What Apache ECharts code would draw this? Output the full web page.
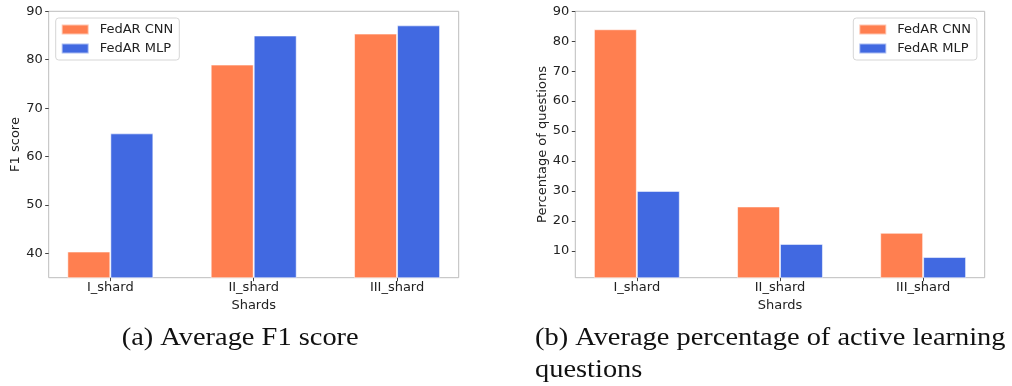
<!DOCTYPE html>
<html>
<head>
<meta charset="utf-8">
<script src="https://cdn.jsdelivr.net/npm/echarts@6/dist/echarts.min.js"></script>
<style>
  html, body { margin: 0; padding: 0; background: #fff; }
  #chart { width: 1012px; height: 386px; }
</style>
</head>
<body>
<div id="chart"></div>
<script>
// Shards on the horizontal axis
const categories = ['I_shard', 'II_shard', 'III_shard'];
const seriesNames = ['FedAR CNN', 'FedAR MLP'];

// (a) average F1 score per shard
const f1Cnn = [40.4, 79.0, 85.4];
const f1Mlp = [64.8, 85.0, 87.1];

// (b) average percentage of active learning questions per shard
const pctCnn = [84.0, 24.8, 16.0];
const pctMlp = [30.0, 12.3, 7.9];

// tick values
const xTicks = [0, 1, 2];
const f1Ticks = [40, 50, 60, 70, 80, 90];
const pctTicks = [10, 20, 30, 40, 50, 60, 70, 80, 90];

const ORANGE = '#FF7F50';
const BLUE = '#4169E1';
const TXT = '#222';
const FONT = '"DejaVu Sans"';

const toPoints = vals => vals.map((v, i) => [i, v]);

function xAxisFor(gridIndex) {
  return {
    type: 'value', gridIndex,
    min: -0.43, max: 2.43,
    name: 'Shards', nameLocation: 'middle', nameGap: 15,
    nameTextStyle: { fontFamily: FONT, fontSize: 13, color: TXT },
    axisLine: { show: false, onZero: false },
    axisTick: { show: true, length: 3.5, lineStyle: { color: '#444', width: 1 }, customValues: xTicks },
    axisLabel: {
      fontFamily: FONT, fontSize: 13, color: TXT, margin: 3.5,
      customValues: xTicks,
      formatter: v => categories[Math.round(v)]
    },
    splitLine: { show: false }
  };
}

function yAxisFor(gridIndex, min, max, ticks, title) {
  return {
    type: 'value', gridIndex, min, max,
    name: title, nameLocation: 'middle', nameGap: 25,
    nameTextStyle: { fontFamily: FONT, fontSize: 13, color: TXT },
    axisLine: { show: false, onZero: false },
    axisTick: { show: true, length: 3.5, lineStyle: { color: '#444', width: 1 }, customValues: ticks },
    axisLabel: { fontFamily: FONT, fontSize: 13, color: TXT, margin: 6, customValues: ticks },
    splitLine: { show: false }
  };
}

function bar(name, color, vals, idx) {
  return {
    type: 'bar', name, xAxisIndex: idx, yAxisIndex: idx,
    data: toPoints(vals),
    barWidth: '30%', barGap: '0%',
    itemStyle: { color, borderColor: 'rgba(255,255,255,0.55)', borderWidth: 1 },
    emphasis: { disabled: true },
    animation: false
  };
}

function legendAt(left) {
  return {
    left, top: 18, orient: 'vertical',
    data: seriesNames,
    icon: 'rect', itemWidth: 27, itemHeight: 10, itemGap: 4,
    padding: [4, 6, 4, 5],
    borderColor: '#d6d6d6', borderWidth: 1, borderRadius: 3,
    backgroundColor: 'rgba(255,255,255,0.8)',
    textStyle: { fontFamily: FONT, fontSize: 13, color: TXT, lineHeight: 15, padding: [0, 0, 0, 6] },
    selectedMode: false
  };
}

function caption(text, x, y) {
  return {
    type: 'text', x, y, scaleX: 1.16,
    style: { text, font: '24.5px "Liberation Serif"', fill: '#111', verticalAlign: 'top' }
  };
}

const chart = echarts.init(document.getElementById('chart'), null, { renderer: 'canvas' });
chart.setOption({
  animation: false,
  grid: [
    { left: 48.7, top: 11.3, width: 410, height: 266.4, show: true, borderColor: '#bdbdbd', borderWidth: 1 },
    { left: 575.3, top: 11.3, width: 409.4, height: 266.4, show: true, borderColor: '#bdbdbd', borderWidth: 1 }
  ],
  xAxis: [xAxisFor(0), xAxisFor(1)],
  yAxis: [
    yAxisFor(0, 35, 90, f1Ticks, 'F1 score'),
    yAxisFor(1, 1, 90, pctTicks, 'Percentage of questions')
  ],
  legend: [legendAt(55.7), legendAt(853.3)],
  series: [
    bar(seriesNames[0], ORANGE, f1Cnn, 0),
    bar(seriesNames[1], BLUE, f1Mlp, 0),
    bar(seriesNames[0], ORANGE, pctCnn, 1),
    bar(seriesNames[1], BLUE, pctMlp, 1)
  ],
  graphic: [
    caption('(a) Average F1 score', 121.7, 326.5),
    caption('(b) Average percentage of active learning', 535, 326.5),
    caption('questions', 535, 358)
  ]
});
</script>
</body>
</html>
